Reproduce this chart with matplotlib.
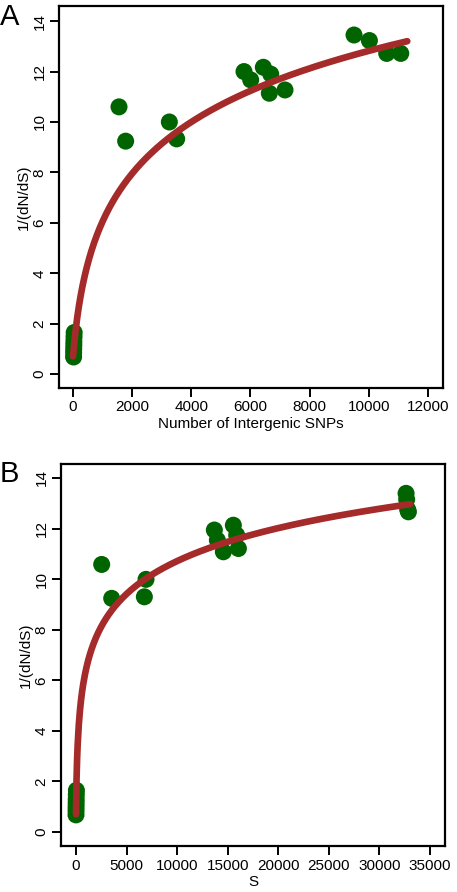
import numpy as np
import matplotlib
matplotlib.use("Agg")
import matplotlib.pyplot as plt

plt.rcParams['font.family'] = ['Liberation Sans', 'DejaVu Sans']

# ---- Data: panel A (x = number of intergenic SNPs) ----
a_x = [20, 22, 25, 28, 30, 35, 40,
       1555, 1780, 3257, 3505,
       5781, 6007, 6434, 6684, 6637, 7167,
       9500, 10020, 10605, 11080]
a_y = [0.68, 0.85, 1.0, 1.15, 1.3, 1.48, 1.65,
       10.6, 9.24, 10.0, 9.33,
       12.0, 11.67, 12.17, 11.9, 11.14, 11.27,
       13.45, 13.23, 12.72, 12.72]

# ---- Data: panel B (x = S) ----
b_x = [0, 5, 10, 15, 20, 30, 40,
       2540, 3530, 6924, 6760,
       13680, 13980, 14570, 15560, 15890, 16060,
       32640, 32700, 32870, 32800]
b_y = [0.68, 0.85, 1.0, 1.15, 1.3, 1.48, 1.65,
       10.58, 9.24, 9.99, 9.3,
       11.94, 11.54, 11.08, 12.13, 11.74, 11.21,
       13.39, 13.15, 12.66, 12.75]

# fitted curve parameters: y = y0 + b*ln(1 + x/c)
fit_a = dict(y0=0.7, b=3.194, c=230.0, xmax=11300)
fit_b = dict(y0=0.7, b=1.888, c=50.0, xmax=33050)

a_xticks = [0, 2000, 4000, 6000, 8000, 10000, 12000]
b_xticks = [0, 5000, 10000, 15000, 20000, 25000, 30000, 35000]
yticks = [0, 2, 4, 6, 8, 10, 12, 14]

W, H = 457, 892
fig = plt.figure(figsize=(W / 100, H / 100), dpi=100)

def make_axes(px_left, px_top, px_right, px_bottom):
    return fig.add_axes([px_left / W, 1 - px_bottom / H,
                         (px_right - px_left) / W, (px_bottom - px_top) / H])

def draw_panel(ax, xs, ys, fit, xticks, xlim, ylim, xlabel):
    xc = np.linspace(0, fit['xmax'], 600)
    yc = fit['y0'] + fit['b'] * np.log1p(xc / fit['c'])
    ax.scatter(xs, ys, s=150, color='#006400', edgecolors='none', zorder=2)
    ax.plot(xc, yc, color='#A52A2A', lw=4.8, solid_capstyle='round', zorder=3)
    ax.set_xlim(*xlim)
    ax.set_ylim(*ylim)
    ax.set_xticks(xticks)
    ax.set_yticks(yticks)
    ax.set_xticklabels([str(t) for t in xticks])
    ax.set_yticklabels([str(t) for t in yticks], rotation=90, va='center')
    ax.tick_params(direction='out', length=6.5, width=1.4, labelsize=11, pad=2.5)
    for sp in ax.spines.values():
        sp.set_linewidth(1.6)
    ax.set_xlabel(xlabel, fontsize=11, labelpad=1.5)
    ax.set_ylabel('1/(dN/dS)', fontsize=11, labelpad=1)

axA = make_axes(59, 6, 443, 388)
draw_panel(axA, a_x, a_y, fit_a, a_xticks, (-473, 12508), (-0.55, 14.6),
           'Number of Intergenic SNPs')
axB = make_axes(61, 464, 445, 846)
draw_panel(axB, b_x, b_y, fit_b, b_xticks, (-1483, 36490), (-0.55, 14.55), 'S')

fig.text(0 / W, 1 - 17 / H, 'A', fontsize=21, va='center', ha='left')
fig.text(0 / W, 1 - 474 / H, 'B', fontsize=21, va='center', ha='left')

fig.savefig('out.png', dpi=100)
